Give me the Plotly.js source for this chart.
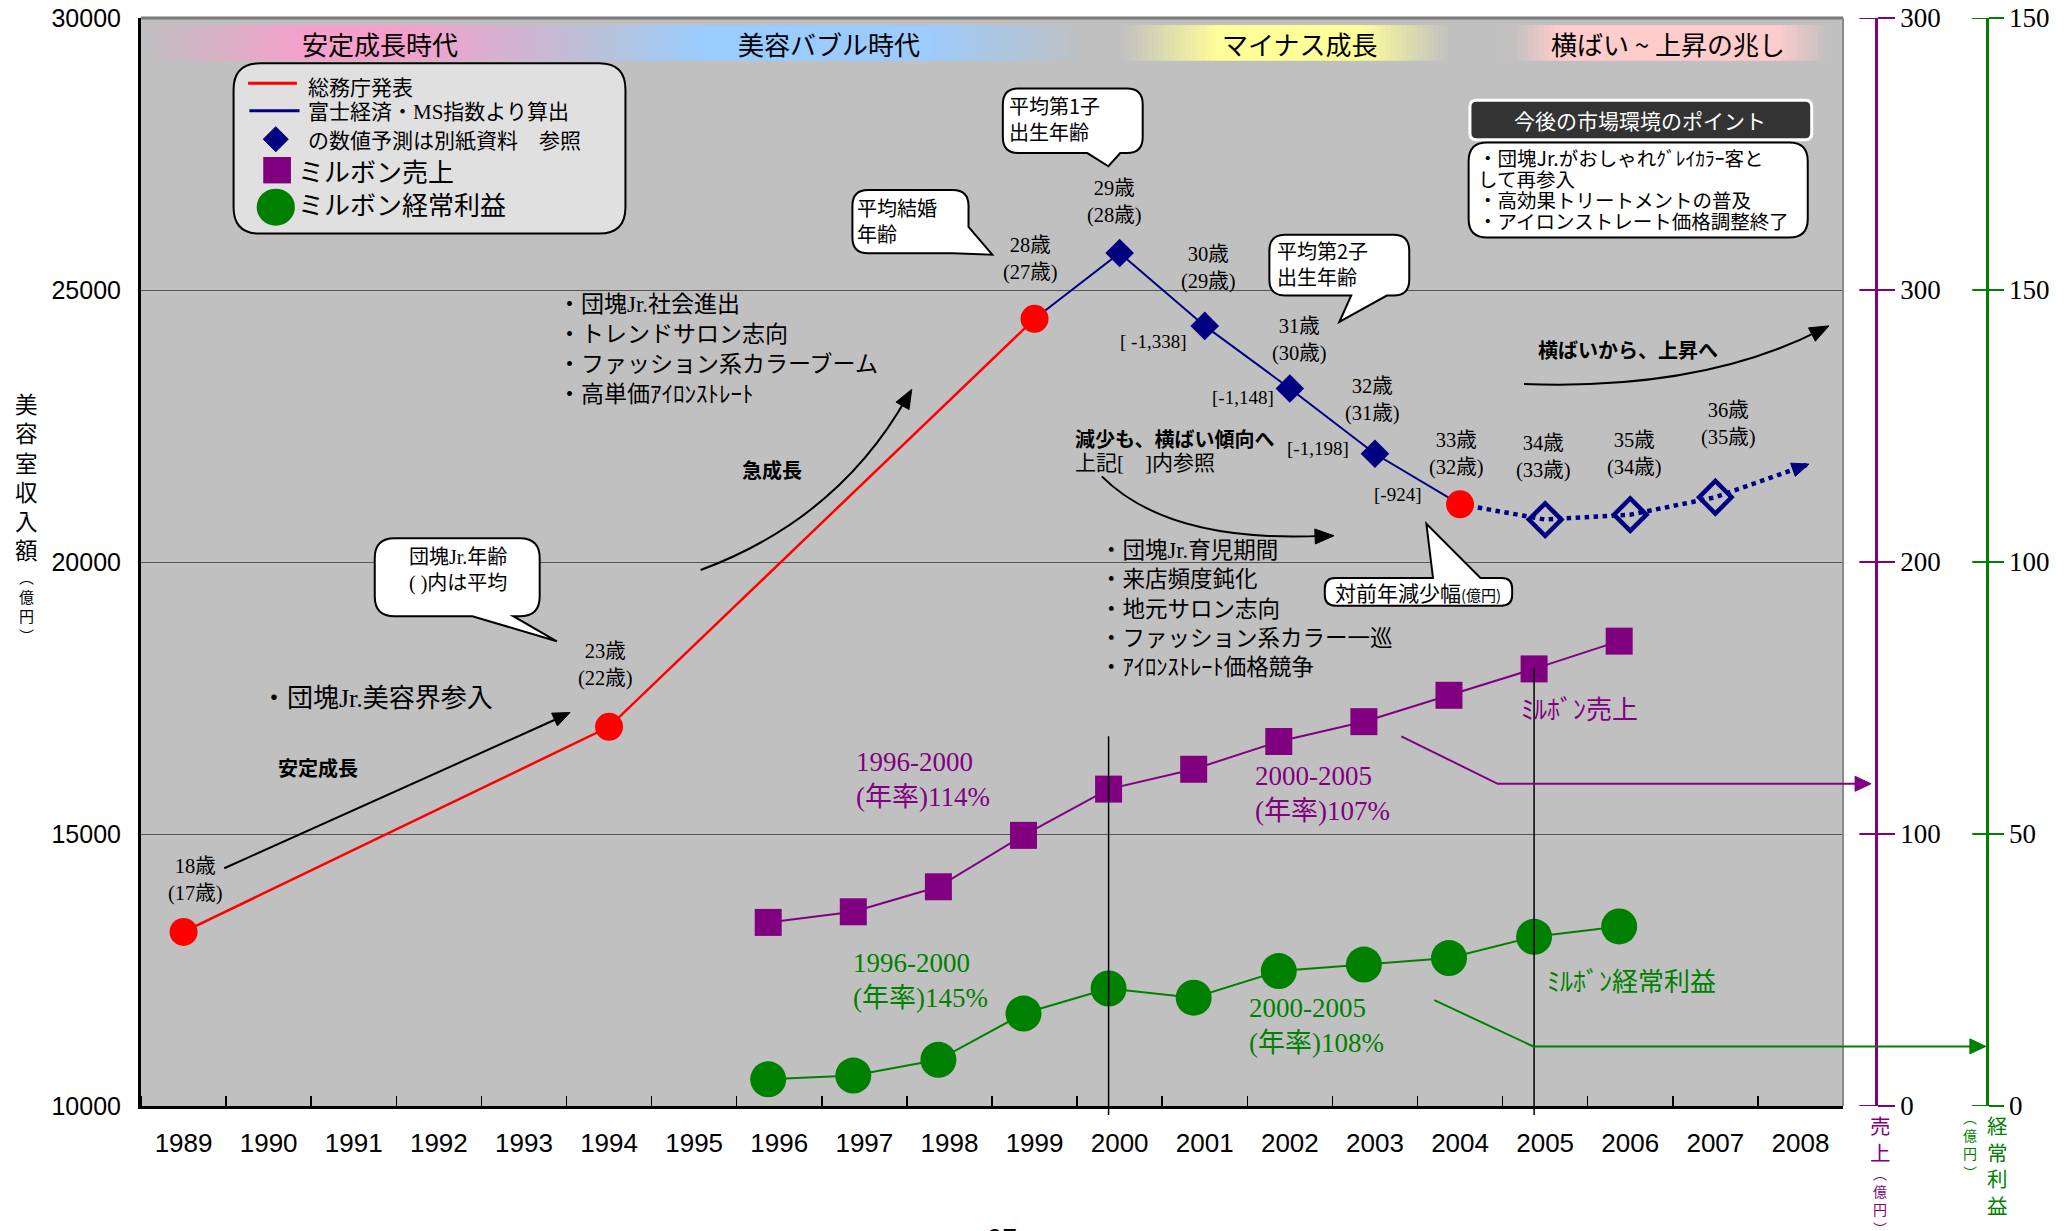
<!DOCTYPE html>
<html><head><meta charset="utf-8">
<script src="https://cdn.plot.ly/plotly-3.0.1.min.js"></script>
<style>html,body{margin:0;padding:0;background:#fff;}#chart{width:2069px;height:1231px;}</style>
</head><body><div id="chart"></div>
<script>
// ---------------- DATA ----------------
const years = [1989,1990,1991,1992,1993,1994,1995,1996,1997,1998,1999,2000,2001,2002,2003,2004,2005,2006,2007,2008];
const yearLabels = years.map(String);
const soumuYears = [1989, 1994, 1999, 2004];              // 総務庁発表
const soumuValues = [13200, 16970, 24470, 21060];
const fujiYears = [1999, 2000, 2001, 2002, 2003, 2004];    // 富士経済・MS指数より算出
const fujiValues = [24470, 25680, 24340, 23190, 21990, 21060];
const forecastYears = [2004, 2005, 2006, 2007];           // 予測
const forecastValues = [21060, 20780, 20870, 21190];
const forecastArrowEnd = [2008.1, 21800];
const milbonYears = [1996,1997,1998,1999,2000,2001,2002,2003,2004,2005,2006];
const milbonSales = [67.5, 71.4, 80.6, 99.5, 116.5, 123.8, 134.0, 141.3, 151.0, 160.7, 170.9];   // 売上(億円)
const milbonProfit = [4.9, 5.6, 8.5, 17.0, 21.6, 19.9, 24.8, 26.0, 27.2, 31.1, 33.0];         // 経常利益(億円)
const decreaseLabels = ['[ -1,338]', '[-1,148]', '[-1,198]', '[-924]'];
const ageLabels = ['18歳','23歳','28歳','29歳','30歳','31歳','32歳','33歳','34歳','35歳','36歳'];
const avgAgeLabels = ['(17歳)','(22歳)','(27歳)','(28歳)','(29歳)','(30歳)','(31歳)','(32歳)','(33歳)','(34歳)','(35歳)'];
const eraLabels = ['安定成長時代','美容バブル時代','マイナス成長','横ばい ~ 上昇の兆し'];
const yTicks = [10000, 15000, 20000, 25000, 30000];
const salesTickVals = [0, 100, 200, 300, 400];
const salesTickText = ['0', '100', '200', '300', '300'];
const profitTickVals = [0, 50, 100, 150, 200];
const profitTickText = ['0', '50', '100', '150', '150'];

// ---------------- LAYOUT HELPERS ----------------
const K = 2069 / 1568;            // sketch coords -> page pixels
const L = 141, T = 18, PW = 1849, PH = 1088;
const XEND = (1843 - L) / PW;
const px = xm => (xm * K - L) / PW;
const py = ym => 1 - (ym * K - T) / PH;
const SANS = '"Noto Sans CJK JP", "Liberation Sans", sans-serif';
const SERIF = '"Liberation Serif", "Noto Sans CJK JP", serif';
const ARIAL = '"Liberation Sans", Arial, sans-serif';
const PURPLE = '#800080', GREEN = '#008000', NAVY = '#000080';

function pth(cmds) {
  return cmds.map(c => {
    if (c[0] === 'Z') return 'Z';
    let s = c[0];
    for (let i = 1; i < c.length; i += 2) s += ' ' + px(c[i]).toFixed(5) + ',' + py(c[i + 1]).toFixed(5);
    return s;
  }).join(' ');
}
function boxPath(x0, y0, x1, y1, r, tail) {
  tail = tail || {edge: 'none', pts: []};
  const c = [['M', x0 + r, y0]];
  if (tail.edge === 'top') tail.pts.forEach(p => c.push(['L', p[0], p[1]]));
  c.push(['L', x1 - r, y0], ['Q', x1, y0, x1, y0 + r]);
  if (tail.edge === 'br') {
    tail.pts.forEach(p => c.push(['L', p[0], p[1]]));
  } else {
    c.push(['L', x1, y1 - r], ['Q', x1, y1, x1 - r, y1]);
    if (tail.edge === 'bottom') tail.pts.forEach(p => c.push(['L', p[0], p[1]]));
  }
  c.push(['L', x0 + r, y1], ['Q', x0, y1, x0, y1 - r], ['L', x0, y0 + r], ['Q', x0, y0, x0 + r, y0], ['Z']);
  return pth(c);
}
function box(x0, y0, x1, y1, r, fill, lc, lw, tail) {
  return {type: 'path', xref: 'paper', yref: 'paper', path: boxPath(x0, y0, x1, y1, r, tail),
    fillcolor: fill, line: {color: lc, width: lw}, layer: 'above'};
}
function head(tx, ty, fx, fy, len, wid, color) {
  const dx = (tx - fx) * K, dy = (ty - fy) * K, d = Math.hypot(dx, dy);
  const ux = dx / d, uy = dy / d;
  const bx = tx * K - ux * len, by = ty * K - uy * len, nx = -uy * wid / 2, ny = ux * wid / 2;
  const p = [[tx * K, ty * K], [bx + nx, by + ny], [bx - nx, by - ny]].map(q => [q[0] / K, q[1] / K]);
  return {type: 'path', xref: 'paper', yref: 'paper', path: pth([['M', p[0][0], p[0][1]], ['L', p[1][0], p[1][1]], ['L', p[2][0], p[2][1]], ['Z']]),
    fillcolor: color, line: {color: color, width: 1}};
}
function curve(cmds, color, w) {
  return {type: 'path', xref: 'paper', yref: 'paper', path: pth(cmds), fillcolor: 'rgba(0,0,0,0)', line: {color: color, width: w}};
}
function txt(text, xm, ym, size, o) {
  o = o || {};
  const xa = o.xa || 'center';
  return {text: text, xref: 'paper', yref: 'paper', x: px(xm), y: py(ym), xanchor: xa, yanchor: o.ya || 'middle',
    align: xa === 'left' ? 'left' : 'center', borderpad: 0,
    showarrow: false, font: {family: o.f || SANS, size: size, color: o.c || '#000'}};
}
function dataToSketch(yr, v) {
  return [(L + (yr - 1988.5) / 20 * 1702) / K, (T + (1 - (v - 10000) / 20000) * PH) / K];
}

const shapes = [];
const ann = [];

// era gradient bands
const stops = [[110,'#c0c0c0'],[230,'#f5a0ca'],[305,'#f5a0ca'],[453,'#b9c1d9'],[536,'#99ccff'],[701,'#9ccbfc'],[825,'#c0c0c0'],[850,'#c0c0c0'],[925,'#ffff99'],[1031,'#ffff99'],[1098,'#c0c0c0'],[1147,'#c2c0c0'],[1181,'#ffcccc'],[1346,'#ffcccc'],[1385,'#c0c0c0'],[1398,'#c0c0c0']];
const hex = h => [1,3,5].map(i => parseInt(h.substr(i,2),16));
function colAt(x) {
  for (let i = 0; i < stops.length - 1; i++) {
    const a = stops[i], b = stops[i+1];
    if (x >= a[0] && x <= b[0]) {
      const t = (x - a[0]) / (b[0] - a[0]), ca = hex(a[1]), cb = hex(b[1]);
      return 'rgb(' + ca.map((v, k) => Math.round(v + (cb[k] - v) * t)).join(',') + ')';
    }
  }
  return '#c0c0c0';
}
for (let x = 110; x < 1396; x += 4) {
  shapes.push({type: 'rect', xref: 'paper', yref: 'paper', x0: px(x), x1: px(Math.min(x + 4.8, 1396.5)), y0: py(46), y1: py(19),
    fillcolor: colAt(x + 2), line: {width: 0}, layer: 'below'});
}
const eraPos = [288, 628, 985, 1264];
eraLabels.forEach((t, i) => ann.push(txt(t, eraPos[i], 33, 26)));

// plot border (top / right)
shapes.push({type: 'line', xref: 'paper', yref: 'paper', x0: 0, x1: XEND, y0: 1, y1: 1, line: {color: '#7a7a7a', width: 3}});
shapes.push({type: 'line', xref: 'paper', yref: 'paper', x0: XEND, x1: XEND, y0: 0, y1: 1, line: {color: '#8a8a8a', width: 2}});

// vertical reference lines 2000 / 2005
shapes.push({type: 'line', xref: 'x2', yref: 'paper', x0: 2000, x1: 2000, y0: py(845), y1: py(558), line: {color: '#000', width: 1.5}});
shapes.push({type: 'line', xref: 'x2', yref: 'paper', x0: 2005, x1: 2005, y0: py(845), y1: py(506), line: {color: '#000', width: 1.5}});

// right axes: inner halves of cross ticks
const PPOS = px(1422), GPOS = px(1506);
salesTickVals.forEach(v => shapes.push({type: 'line', xref: 'paper', yref: 'y2', x0: PPOS - 17 / PW, x1: PPOS, y0: v, y1: v, line: {color: PURPLE, width: 2}}));
profitTickVals.forEach(v => shapes.push({type: 'line', xref: 'paper', yref: 'y3', x0: GPOS - 15 / PW, x1: GPOS, y0: v, y1: v, line: {color: GREEN, width: 2}}));

// legend box
shapes.push(box(177, 48, 474, 177, 20, '#e0e0e0', '#000', 2));
shapes.push({type: 'line', xref: 'paper', yref: 'paper', x0: px(188), x1: px(225), y0: py(63), y1: py(63), line: {color: '#ff0000', width: 3}});
shapes.push({type: 'line', xref: 'paper', yref: 'paper', x0: px(189), x1: px(227), y0: py(84), y1: py(84), line: {color: NAVY, width: 3}});
shapes.push({type: 'path', xref: 'paper', yref: 'paper', path: pth([['M',209,96],['L',218.5,105.5],['L',209,115],['L',199.5,105.5],['Z']]), fillcolor: NAVY, line: {color: NAVY, width: 1}});
shapes.push({type: 'rect', xref: 'paper', yref: 'paper', x0: px(199.5), x1: px(220.5), y0: py(139), y1: py(119), fillcolor: PURPLE, line: {width: 0}});
shapes.push({type: 'circle', xref: 'paper', yref: 'paper', x0: px(194.5), x1: px(223.5), y0: py(171), y1: py(143), fillcolor: GREEN, line: {width: 0}});
ann.push(txt('総務庁発表', 233, 65, 21, {xa: 'left'}));
ann.push(txt('富士経済・MS指数より算出', 233, 85, 21, {xa: 'left', f: SERIF}));
ann.push(txt('の数値予測は別紙資料　参照', 233, 105, 21, {xa: 'left'}));
ann.push(txt('ミルボン売上', 225, 129, 26, {xa: 'left'}));
ann.push(txt('ミルボン経常利益', 225, 154, 26, {xa: 'left'}));

// speech bubbles
shapes.push(box(284, 408, 409, 467, 15, '#fff', '#000', 2, {edge: 'bottom', pts: [[389,467],[422,486],[358,467]]}));
ann.push(txt('団塊Jr.年齢<br>( )内は平均', 347, 432, 20, {f: SERIF}));
shapes.push(box(646, 144, 734, 192, 12, '#fff', '#000', 2, {edge: 'br', pts: [[734,172],[752,193],[722,192]]}));
ann.push(txt('平均結婚<br>年齢', 649, 167, 20, {xa: 'left'}));
shapes.push(box(760, 67, 866, 116, 12, '#fff', '#000', 2, {edge: 'bottom', pts: [[849,116],[840,126],[824,116]]}));
ann.push(txt('平均第1子<br>出生年齢', 764, 90, 20, {xa: 'left'}));
shapes.push(box(962, 178, 1068, 224, 12, '#fff', '#000', 2, {edge: 'bottom', pts: [[1051,224],[1015,244],[1024,224]]}));
ann.push(txt('平均第2子<br>出生年齢', 967, 200, 20, {xa: 'left'}));
shapes.push(box(1004, 438, 1146, 459, 8, '#fff', '#000', 2, {edge: 'top', pts: [[1086,438],[1081,397],[1122,438]]}));
ann.push(txt('対前年減少幅<span style="font-size:15px">(億円)</span>', 1075, 449, 21));

// market points box
shapes.push(box(1114, 76, 1373, 106, 5, '#333333', '#ffffff', 3));
ann.push(txt('今後の市場環境のポイント', 1243, 91, 21, {c: '#ffffff'}));
shapes.push(box(1113, 108, 1370, 180, 14, '#ffffff', '#000', 2));
ann.push(txt('・団塊Jr.がおしゃれｸﾞﾚｲｶﾗｰ客と', 1119, 119, 19.5, {xa: 'left'}));
ann.push(txt('して再参入', 1119, 135, 19.5, {xa: 'left'}));
ann.push(txt('・高効果トリートメントの普及', 1119, 151, 19.5, {xa: 'left'}));
ann.push(txt('・アイロンストレート価格調整終了', 1119, 167, 19.5, {xa: 'left'}));

// text blocks
ann.push(txt(['・団塊Jr.社会進出', '・トレンドサロン志向', '・ファッション系カラーブーム', '・高単価ｱｲﾛﾝｽﾄﾚｰﾄ'].join('<br>'),
  422, 264.5, 23, {xa: 'left', f: SERIF}));
ann.push(txt(['・団塊Jr.育児期間', '・来店頻度鈍化', '・地元サロン志向', '・ファッション系カラー一巡', '・ｱｲﾛﾝｽﾄﾚｰﾄ価格競争'].join('<br>'),
  833, 461.5, 22.5, {xa: 'left', f: SERIF}));
ann.push(txt('・団塊Jr.美容界参入', 197, 529, 26, {xa: 'left', f: SERIF}));
ann.push(txt('<b>安定成長</b>', 241, 582, 20));
ann.push(txt('<b>急成長</b>', 585, 356, 20));
ann.push(txt('<b>減少も、横ばい傾向へ</b>', 814, 332, 20, {xa: 'left'}));
ann.push(txt('上記[　]内参照', 814, 351, 21, {xa: 'left', f: SERIF}));
ann.push(txt('<b>横ばいから、上昇へ</b>', 1234, 265, 20));

// age labels & decrease labels
const agePos = [[148,667],[459,504],[781,196],[845,153],[916,203],[985,258],[1040,303],[1104,344],[1170,346],[1239,344],[1310,321]];
ageLabels.forEach((t, i) => ann.push(txt(t + '<br>' + avgAgeLabels[i], agePos[i][0], agePos[i][1], 20.5, {f: SERIF})));
const decPos = [[874,259],[942,301],[999,340],[1059,375]];
decreaseLabels.forEach((t, i) => ann.push(txt(t, decPos[i][0], decPos[i][1], 19, {f: SERIF})));

// growth-rate texts
ann.push(txt('1996-2000<br>(年率)114%', 648, 591, 27, {xa: 'left', f: SERIF, c: PURPLE}));
ann.push(txt('2000-2005<br>(年率)107%', 950, 601, 27, {xa: 'left', f: SERIF, c: PURPLE}));
ann.push(txt('ﾐﾙﾎﾞﾝ売上', 1152, 536, 26, {xa: 'left', c: PURPLE}));
ann.push(txt('1996-2000<br>(年率)145%', 646, 743, 27, {xa: 'left', f: SERIF, c: GREEN}));
ann.push(txt('2000-2005<br>(年率)108%', 946, 777, 27, {xa: 'left', f: SERIF, c: GREEN}));
ann.push(txt('ﾐﾙﾎﾞﾝ経常利益', 1172, 742, 26, {xa: 'left', c: GREEN}));

// arrows
shapes.push(curve([['M',170,658],['L',426,543]], '#000', 2));
shapes.push(head(432, 540, 170, 658, 17, 14, '#000'));
shapes.push(curve([['M',531,432],['Q',636,393,688,300]], '#000', 2));
shapes.push(head(691, 295, 636, 393, 19, 15, '#000'));
shapes.push(curve([['M',835,361],['Q',886,412,1004,406]], '#000', 2));
shapes.push(head(1011, 406, 886, 411, 19, 15, '#000'));
shapes.push(curve([['M',1155,291],['Q',1290,296,1380,250]], '#000', 2));
shapes.push(head(1386, 247, 1290, 296, 19, 15, '#000'));
shapes.push(curve([['M',1062,558],['L',1135,594],['L',1410,594]], PURPLE, 2));
shapes.push(head(1418, 594, 1400, 594, 16, 15, PURPLE));
shapes.push(curve([['M',1087,758],['L',1162,793],['L',1497,793]], GREEN, 2));
shapes.push(head(1505, 793, 1490, 793, 16, 15, GREEN));
// forecast arrow head (follows the dotted forecast line)
const fEnd = dataToSketch(forecastArrowEnd[0], forecastArrowEnd[1]);
const fPrev = dataToSketch(forecastYears[forecastYears.length - 1], forecastValues[forecastValues.length - 1]);
shapes.push(head(fEnd[0], fEnd[1], fPrev[0], fPrev[1], 17, 14, NAVY));

// vertical axis titles (stacked characters)
const vcol = a => a.join('<br>');
ann.push(txt(vcol(['美','容','室','収','入','額']), 20, 361, 22.5));
ann.push(txt(vcol(['︵','億','円','︶']), 20, 459, 15));
ann.push(txt(vcol(['売','上']), 1425, 863, 20.5, {c: PURPLE}));
ann.push(txt(vcol(['︵','億','円','︶']), 1425, 910, 14, {c: PURPLE}));
ann.push(txt(vcol(['経','常','利','益']), 1514, 883, 20.5, {c: GREEN}));
ann.push(txt(vcol(['︵','億','円','︶']), 1493, 867, 14, {c: GREEN}));

// page number
ann.push(txt('27', 760, 922, 26, {ya: 'top'}));

// ---------------- TRACES ----------------
const traces = [
  {x: soumuYears.slice(0, 3), y: soumuValues.slice(0, 3), mode: 'lines', line: {color: '#ff0000', width: 2.5}},
  {x: fujiYears, y: fujiValues, mode: 'lines', line: {color: NAVY, width: 2}},
  {x: forecastYears.concat([forecastArrowEnd[0]]), y: forecastValues.concat([forecastArrowEnd[1]]), mode: 'lines', line: {color: NAVY, width: 4.5, dash: 'dot'}},
  {x: soumuYears, y: soumuValues, mode: 'markers', marker: {color: '#ff0000', size: 28, symbol: 'circle'}},
  {x: fujiYears.slice(1, 5), y: fujiValues.slice(1, 5), mode: 'markers', marker: {color: NAVY, size: 22, symbol: 'diamond'}},
  {x: forecastYears.slice(1), y: forecastValues.slice(1), mode: 'markers', marker: {color: NAVY, size: 25, symbol: 'diamond-open', line: {color: NAVY, width: 4.5}}},
  {x: milbonYears, y: milbonSales, xaxis: 'x2', yaxis: 'y2', mode: 'lines+markers', line: {color: PURPLE, width: 2}, marker: {color: PURPLE, size: 27, symbol: 'square'}},
  {x: milbonYears, y: milbonProfit, xaxis: 'x2', yaxis: 'y3', mode: 'lines+markers', line: {color: GREEN, width: 2}, marker: {color: GREEN, size: 36, symbol: 'circle'}}
];

const minorVals = years.map(y => y - 0.5).concat([years[years.length - 1] + 0.5]);
const layout = {
  width: 2069, height: 1231,
  margin: {l: L, r: 2069 - L - PW, t: T, b: 1231 - T - PH, pad: 0},
  paper_bgcolor: '#ffffff', plot_bgcolor: '#c0c0c0',
  showlegend: false, hovermode: false,
  xaxis: {domain: [0, XEND], range: [1988.5, 2008.5], tickmode: 'array', tickvals: years, ticktext: yearLabels,
    showgrid: false, zeroline: false, showline: true, linecolor: '#000', linewidth: 3, ticks: '',
    ticklabelstandoff: 12, tickfont: {family: ARIAL, size: 26, color: '#000'},
    minor: {tickmode: 'array', tickvals: minorVals, ticks: 'inside', ticklen: 10, tickcolor: '#000', tickwidth: 1.5, showgrid: false}},
  xaxis2: {domain: [0, XEND], range: [1988.5 + 0.13, 2008.5 + 0.13], overlaying: 'x', anchor: 'y', visible: false},
  yaxis: {range: [10000, 30000], tickmode: 'array', tickvals: yTicks, ticktext: yTicks.map(String),
    showgrid: true, gridcolor: '#555555', gridwidth: 1, zeroline: false, showline: true, linecolor: '#000', linewidth: 3,
    ticks: '', ticklabelstandoff: 12, tickfont: {family: ARIAL, size: 25, color: '#000'}},
  yaxis2: {overlaying: 'y', anchor: 'free', position: PPOS, side: 'right', range: [0, 400], tickmode: 'array',
    tickvals: salesTickVals, ticktext: salesTickText, showgrid: false, zeroline: false, showline: true, linecolor: PURPLE, linewidth: 2.5,
    ticks: 'outside', ticklen: 17, tickwidth: 2, tickcolor: PURPLE, tickfont: {family: SERIF, size: 27, color: '#000'}},
  yaxis3: {overlaying: 'y', anchor: 'free', position: GPOS, side: 'right', range: [0, 200], tickmode: 'array',
    tickvals: profitTickVals, ticktext: profitTickText, showgrid: false, zeroline: false, showline: true, linecolor: GREEN, linewidth: 2.5,
    ticks: 'outside', ticklen: 15, tickwidth: 2, tickcolor: GREEN, tickfont: {family: SERIF, size: 27, color: '#000'}},
  shapes: shapes,
  annotations: ann
};
Plotly.newPlot('chart', traces, layout, {displayModeBar: false, staticPlot: true});
</script></body></html>
